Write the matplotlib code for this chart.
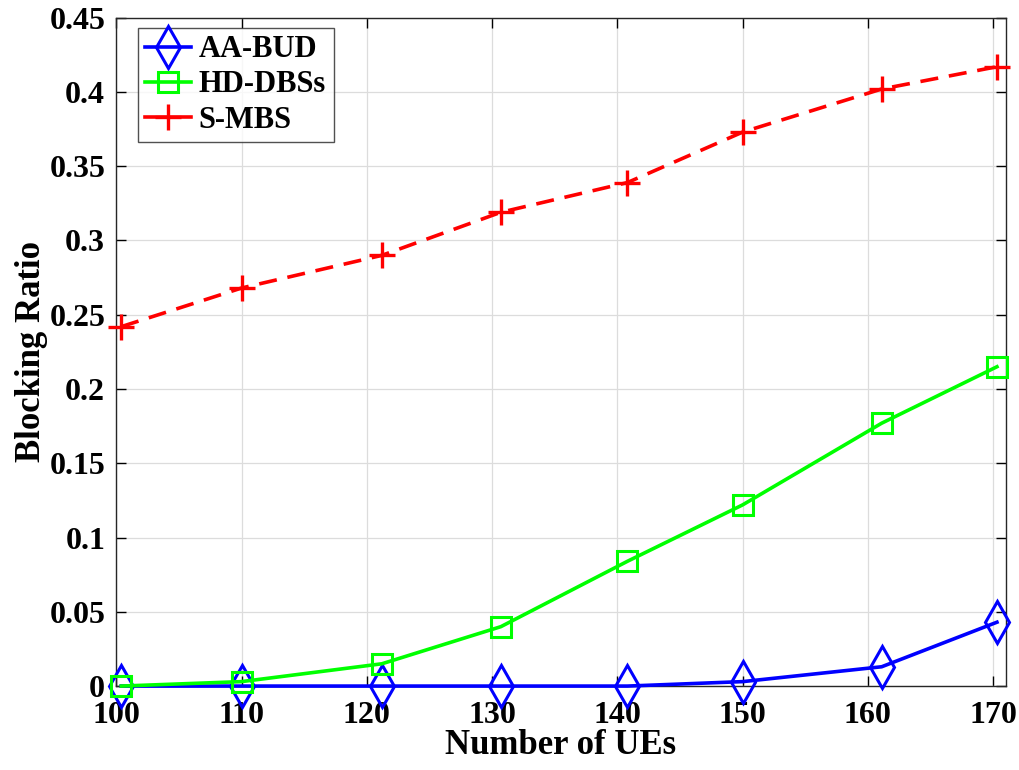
import matplotlib.pyplot as plt
import numpy as np

# data
x_aa = [100.4, 110, 121.2, 130.7, 140.8, 150, 161.1, 170.3]
x_hd = [100.4, 110, 121.2, 130.7, 140.8, 150, 161.1, 170.3]
x_smbs = [100.4, 110, 121.2, 130.7, 140.8, 150, 161.1, 170.3]

aa_bud = [0.0, 0.0, 0.0, 0.0, 0.0, 0.003, 0.013, 0.043]
hd_dbss = [0.0, 0.003, 0.015, 0.040, 0.084, 0.122, 0.177, 0.215]
s_mbs = [0.242, 0.268, 0.290, 0.319, 0.339, 0.373, 0.402, 0.417]

xticks = [100, 110, 120, 130, 140, 150, 160, 170]
yticks = [0, 0.05, 0.1, 0.15, 0.2, 0.25, 0.3, 0.35, 0.4, 0.45]
ytick_labels = ["0", "0.05", "0.1", "0.15", "0.2", "0.25", "0.3", "0.35", "0.4", "0.45"]

plt.rcParams["font.family"] = ["Liberation Serif", "DejaVu Serif"]
plt.rcParams["font.weight"] = "bold"

fig = plt.figure(figsize=(10.2, 7.7), dpi=100)
ax = fig.add_axes([0.114, 0.109, 0.872, 0.868])

ax.plot(x_aa, aa_bud, color="#0000ff", linewidth=2.6, marker="d",
        markersize=21, markerfacecolor="none", markeredgewidth=2.2,
        label="AA-BUD", zorder=3, clip_on=False)
ax.plot(x_hd, hd_dbss, color="#00ff00", linewidth=2.6, marker="s",
        markersize=14, markerfacecolor="none", markeredgewidth=2.2,
        label="HD-DBSs", zorder=4, clip_on=False)
ax.plot(x_smbs, s_mbs, color="#ff0000", linewidth=2.6, linestyle=(0, (5, 3)),
        marker="+", markersize=19, markeredgewidth=2.4,
        label="S-MBS", zorder=3, clip_on=False)

ax.set_xlim(100, 171)
ax.set_ylim(0, 0.45)
ax.set_xticks(xticks)
ax.set_yticks(yticks)
ax.set_yticklabels(ytick_labels)
ax.tick_params(direction="in", top=True, right=True, labelsize=23, length=7,
               width=1.0)
ax.tick_params(axis="x", pad=11)
ax.tick_params(axis="y", pad=8)
ax.grid(True, color="#dcdcdc", linewidth=0.9)
ax.set_axisbelow(True)
for s in ax.spines.values():
    s.set_linewidth(1.0)
    s.set_color("#262626")

ax.set_xlabel("Number of UEs", fontsize=25, fontweight="bold", labelpad=-1)
ax.set_ylabel("Blocking Ratio", fontsize=25, fontweight="bold", labelpad=1)

leg = ax.legend(loc="upper left", fontsize=22, frameon=True, fancybox=False,
                edgecolor="#262626", handlelength=1.5, handletextpad=0.25,
                borderpad=0.25, labelspacing=0.2, borderaxespad=0,
                bbox_to_anchor=(0.024, 0.985))
leg.get_frame().set_linewidth(1.0)
for h in leg.legend_handles:
    h.set_linestyle("-")

plt.savefig("out.png", dpi=100)
